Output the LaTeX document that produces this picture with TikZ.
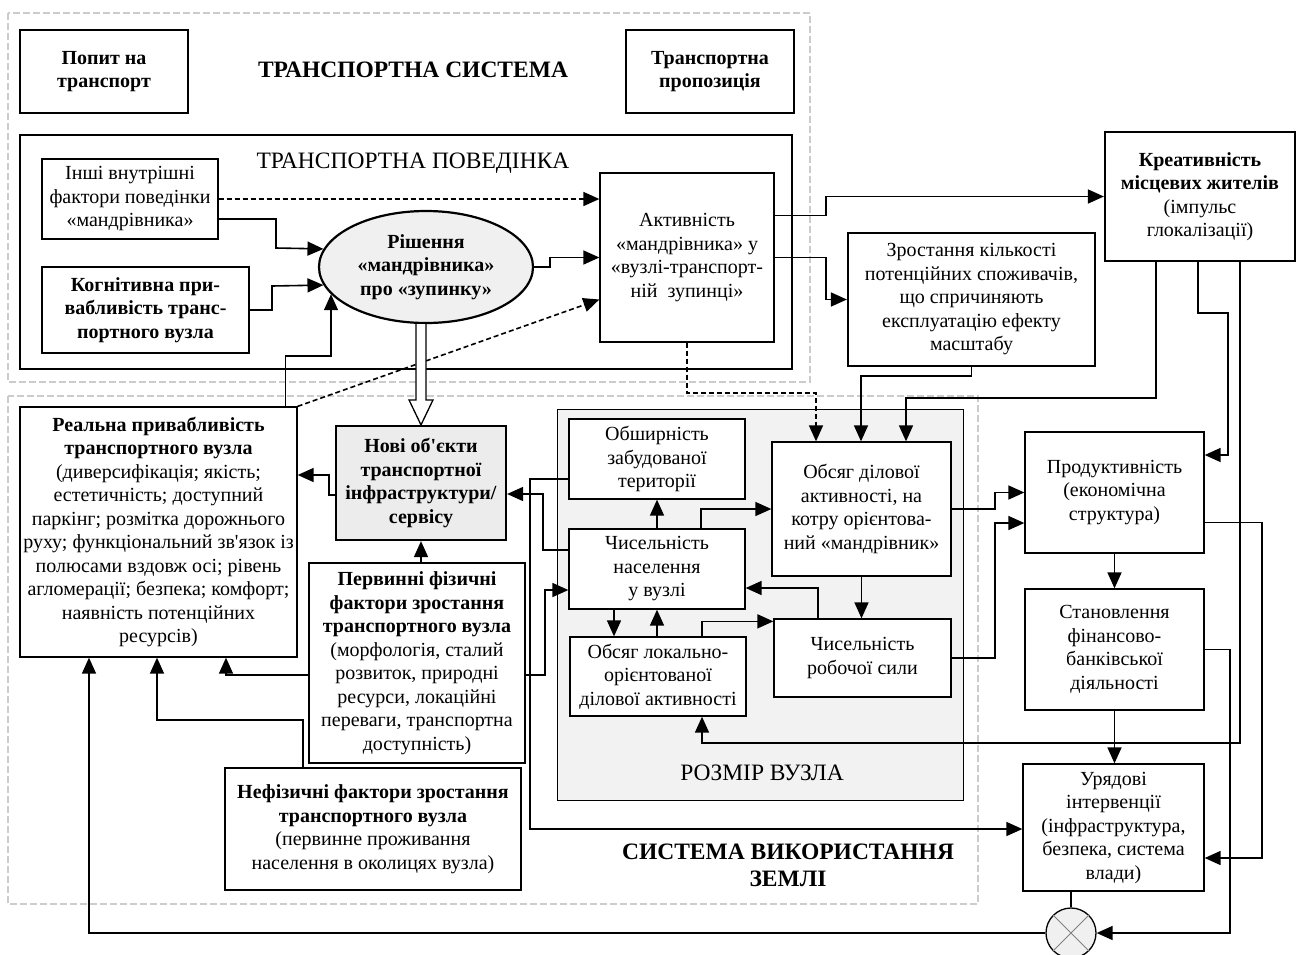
\documentclass[tikz,border=0pt]{standalone}
\usepackage{fontspec}
\setmainfont{Liberation Serif}
\usepackage{tikz}
\usetikzlibrary{arrows.meta,shapes.geometric,calc}
\tikzstyle{Mytitle} = [text centered, font=\fontsize{23.5}{27}\selectfont]
\tikzset{
    block/.style={
        rectangle,
        draw=black,
        line width=1.3pt,
        fill=white,
        align=center,
        inner sep=1pt,
    },
    heavy/.style={
        block,
        line width=2.2pt,
    },
    sysframe/.style={
        draw=gray!40,
        line width=2.6pt,
        dash pattern=on 7pt off 3pt,
    },
    arr/.style={
        line width=1.6pt,
        -{Triangle[length=16pt,width=14pt]},
    },
    dashline/.style={
        dash pattern=on 5pt off 3pt,
    },
}

\begin{document}
\begin{tikzpicture}[
    x=1pt,
    y=-1pt,
    font=\fontsize{20}{23.5}\selectfont]

\useasboundingbox (0,0) rectangle (1298,954);

% Systems
\draw [sysframe] (8,13) rectangle (810,382);
\draw [sysframe] (8,396) rectangle (978,904);
\draw [line width=1.3pt] (20,135) rectangle (792,369);
\draw [line width=1pt, fill=gray!10] (557,409) rectangle (963,800);

\node [Mytitle] (ts_lab) at (413,70) {\textbf{ТРАНСПОРТНА СИСТЕМА}};
\node [Mytitle] (tp_lab) at (413,163) {ТРАНСПОРТНА ПОВЕДІНКА};
\node [Mytitle] (rv_lab) at (762,773) {РОЗМІР ВУЗЛА};
\node [Mytitle, align=center] (zv_lab) at (788,865) {\textbf{СИСТЕМА ВИКОРИСТАННЯ}\\\textbf{ЗЕМЛІ}};

% Попит на транспорт
\node
[
    block,
    minimum width=168pt,
    minimum height=83pt
] (demand) at (104,71.5)
{\textbf{Попит на}\\\textbf{транспорт}};
% Транспортна пропозиція
\node
[
    block,
    minimum width=168pt,
    minimum height=83pt
] (supply) at (710,71.5)
{\textbf{Транспортна}\\\textbf{пропозиція}};
% Інші фактори
\node
[
    block,
    minimum width=176pt,
    minimum height=80pt
] (inner) at (130,199)
{Інші внутрішні\\фактори поведінки\\«мандрівника»};
% Когнітивна привабливість
\node
[
    heavy,
    minimum width=207pt,
    minimum height=86pt
] (cognit) at (145.5,310)
{\textbf{Когнітивна при-}\\\textbf{вабливість транс-}\\\textbf{портного вузла}};
% Рішення
\node
[
    heavy,
    ellipse,
    fill=gray!12,
    inner sep=0pt,
    minimum width=214pt,
    minimum height=112pt
] (decide) at (426,267)
{\textbf{Рішення}\\\textbf{«мандрівника»}\\\textbf{про «зупинку»}};
% Активність
\node
[
    block,
    minimum width=174pt,
    minimum height=169pt
] (activ) at (687,257.5)
{Активність\\«мандрівника» у\\«вузлі-транспорт-\\ній\ \ зупинці»};
% Креативність
\node
[
    heavy,
    minimum width=190pt,
    minimum height=129pt
] (creat) at (1200,196.5)
{\textbf{Креативність}\\\textbf{місцевих жителів}\\(імпульс\\глокалізації)};
% Зростання
\node
[
    heavy,
    minimum width=247pt,
    minimum height=133pt
] (growth) at (971.5,299.5)
{Зростання кількості\\потенційних споживачів,\\що спричиняють\\експлуатацію ефекту\\масштабу};
% Реальна привабливість
\node
[
    block,
    minimum width=277pt,
    minimum height=250pt
] (real) at (158.5,532)
{\textbf{Реальна привабливість}\\\textbf{транспортного вузла}\\(диверсифікація; якість;\\естетичність; доступний\\паркінг; розмітка дорожнього\\руху; функціональний зв\textquotesingle язок із\\полюсами вздовж осі; рівень\\агломерації; безпека; комфорт;\\наявність потенційних\\ресурсів)};
% Нові об'єкти
\node
[
    heavy,
    fill=gray!15,
    minimum width=170pt,
    minimum height=114pt
] (newobj) at (421,483)
{\textbf{Нові об\textquotesingle єкти}\\\textbf{транспортної}\\\textbf{інфраструктури/}\\\textbf{сервісу}};
% Первинні фізичні фактори
\node
[
    heavy,
    minimum width=216pt,
    minimum height=200pt
] (primary) at (417,663)
{\textbf{Первинні фізичні}\\\textbf{фактори зростання}\\\textbf{транспортного вузла}\\(морфологія, сталий\\розвиток, природні\\ресурси, локаційні\\переваги, транспортна\\доступність)};
% Нефізичні фактори
\node
[
    heavy,
    minimum width=296pt,
    minimum height=122pt
] (nonphys) at (373,829)
{\textbf{Нефізичні фактори зростання}\\\textbf{транспортного вузла}\\(первинне проживання\\населення в околицях вузла)};
% Розмір вузла
\node
[
    block,
    minimum width=176pt,
    minimum height=80pt
] (builtup) at (657,459)
{Обширність\\забудованої\\території};
\node
[
    block,
    minimum width=176pt,
    minimum height=80pt
] (popul) at (657,569)
{Чисельність\\населення\\у вузлі};
\node
[
    block,
    minimum width=176pt,
    minimum height=79pt
] (local) at (658,676.5)
{Обсяг локально-\\орієнтованої\\ділової активності};
\node
[
    block,
    minimum width=179pt,
    minimum height=134pt
] (business) at (861.5,509)
{Обсяг ділової\\активності, на\\котру орієнтова-\\ний «мандрівник»};
\node
[
    block,
    minimum width=177pt,
    minimum height=78pt
] (labour) at (862.5,658)
{Чисельність\\робочої сили};
% Економіка
\node
[
    block,
    minimum width=179pt,
    minimum height=121pt
] (product) at (1114.5,492.5)
{Продуктивність\\(економічна\\структура)};
\node
[
    block,
    minimum width=179pt,
    minimum height=121pt
] (finance) at (1114.5,649.5)
{Становлення\\фінансово-\\банківської\\діяльності};
\node
[
    block,
    minimum width=181pt,
    minimum height=127pt
] (govern) at (1113.5,827.5)
{Урядові\\інтервенції\\(інфраструктура,\\безпека, система\\влади)};
\node
[
    circle,
    draw=black,
    line width=1.3pt,
    fill=gray!12,
    minimum size=50pt
] (sum) at (1071,933) {};
\draw [gray, line width=1pt] (sum.45) -- (sum.225) (sum.135) -- (sum.315);

% Transitions
\draw [arr, dashline] (inner.east) -- (inner.east -| activ.west);
\draw [arr] ([yshift=-20pt]inner.east) -| (276,248) -- (decide.170);
\draw [arr] (cognit.east) -| (272,286) -- (decide.190);
\draw [arr] (decide.east) -- ++(16,0) |- (activ.west);
\draw [arr, dashline] (real.north east) -- ([yshift=-42pt]activ.west);
\draw [arr] ([xshift=-12pt]real.north east) |- ($(decide.196)+(0,62)$) -- (decide.196);
\draw [line width=1.3pt, fill=white]
    ($(newobj.north |- decide.south)+(-5,0)$) -- ($(newobj.north)+(-5,-25)$)
    -- ($(newobj.north)+(-12,-25)$) -- (newobj.north) -- ($(newobj.north)+(12,-25)$)
    -- ($(newobj.north)+(5,-25)$) -- ($(newobj.north |- decide.south)+(5,0)$);
\draw [arr] ([yshift=-12pt]newobj.west) -| (329,475) -- (real.east |- 0,475);
\draw [arr] (newobj.south |- primary.north) -- (newobj.south);
\draw [arr] ([yshift=-12pt]primary.west) -| (226,0 |- real.south);
\draw [arr] ([yshift=-12pt]primary.east) -| (545,590) -- (popul.west |- 0,590);
\draw [arr] (303,0 |- nonphys.north) |- (157,720) -- (157,0 |- real.south);
\draw [arr] (sum.west) -| (89,0 |- real.south);
\draw [arr] ([yshift=42pt]activ.east) -| (826,196.5) -- (creat.west);
\draw [arr] (activ.east) -| (826,299.5) -- (growth.west);
\draw [arr, dashline] (activ.south) |- (816,393) -- (816,0 |- business.north);
\draw [arr] (growth.south) |- (861,376) -- (861,0 |- business.north);
\draw [arr] (1156,0 |- creat.south) |- (906,398) -- (906,0 |- business.north);
\draw [arr] (1198,0 |- creat.south) |- (1228,313) |- (product.east |- 0,455);
\draw [arr] (1240,0 |- creat.south) |- (702,743) -- (702,0 |- local.south);
\draw [arr] (popul.north) -- (builtup.south);
\draw [arr] (701,0 |- popul.north) |- (business.west);
\draw [arr] (614,0 |- popul.south) -- (614,0 |- local.north);
\draw [arr] (popul.south |- local.north) -- (popul.south);
\draw [arr] (702,0 |- local.north) |- ([yshift=-3pt]labour.north west);
\draw [arr] (business.south) -- (business.south |- labour.north);
\draw [arr] (818,0 |- labour.north) |- (popul.east |- 0,588);
\draw [arr] ([yshift=-20pt]builtup.west) -| (530,829) -- (govern.west |- 0,829);
\draw [arr] ([yshift=19pt]popul.west) -| (543,494) -- (newobj.east |- 0,494);
\draw [arr] (business.east) -| (995,492.5) -- (product.west);
\draw [arr] (labour.east) -| (995,523) -- (product.west |- 0,523);
\draw [arr] (product.south) -- (product.south |- finance.north);
\draw [arr] (finance.south) -- (finance.south |- govern.north);
\draw [arr] ([yshift=-30pt]product.east) -| (1262,858) -- (govern.east |- 0,858);
\draw [arr] (finance.east) -| (1230,0 |- sum.east) -- (sum.east);
\draw [line width=1.6pt] (sum.north |- govern.south) -- (sum.north);

\end{tikzpicture}
\end{document}
